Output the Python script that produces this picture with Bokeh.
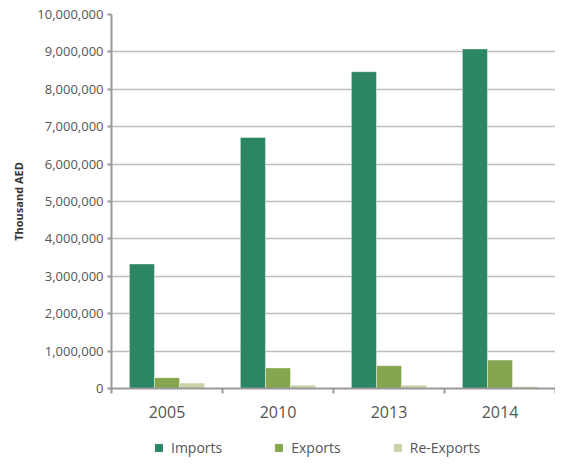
from bokeh.plotting import figure
from bokeh.layouts import column
from bokeh.models import (ColumnDataSource, Range1d, FixedTicker, NumeralTickFormatter,
                          Legend, LegendItem)
from bokeh.transform import dodge
from bokeh.embed import file_html
from bokeh.resources import INLINE

years = ["2005", "2010", "2013", "2014"]
imports = [3330000, 6710000, 8470000, 9080000]
exports = [290000, 550000, 610000, 760000]
re_exports = [145000, 90000, 90000, 45000]
y_ticks = [0, 1000000, 2000000, 3000000, 4000000, 5000000, 6000000, 7000000, 8000000, 9000000, 10000000]
series_names = ["Imports", "Exports", "Re-Exports"]
series_colors = ["#2d8663", "#85a64f", "#c8d3a9"]

FONT = "Open Sans"
pos = [i + 0.5 for i in range(len(years))]
src = ColumnDataSource(dict(x=pos, imports=imports, exports=exports, re_exports=re_exports))

p = figure(width=555, height=430, output_backend="svg", toolbar_location=None,
           x_range=Range1d(0, len(years)), y_range=Range1d(0, 10000000),
           min_border_left=111, min_border_right=0, min_border_top=14, min_border_bottom=42)
p.outline_line_color = None
p.background_fill_color = "white"
p.border_fill_color = "white"

bw = 0.226
fields = ["imports", "exports", "re_exports"]
for k, (field, color) in enumerate(zip(fields, series_colors)):
    p.vbar(x=dodge("x", (k - 1) * bw, range=p.x_range), top=field, width=bw, bottom=0,
           source=src, fill_color=color, line_color="white", line_alpha=0.4, line_width=1)

# x axis
xa = p.xaxis[0]
xa.ticker = FixedTicker(ticks=pos, minor_ticks=list(range(len(years) + 1)))
xa.major_label_overrides = {pv: y for pv, y in zip(pos, years)}
xa.major_tick_out = 0
xa.major_tick_in = 0
xa.minor_tick_out = 5
xa.minor_tick_in = 0
xa.minor_tick_line_color = "#999999"
xa.minor_tick_line_width = 2
xa.axis_line_color = "#999999"
xa.axis_line_width = 2
xa.major_label_text_font = FONT
xa.major_label_text_font_size = "16px"
xa.major_label_text_color = "#555555"
xa.major_label_standoff = 12
p.xgrid.grid_line_color = None

# y axis
ya = p.yaxis[0]
ya.ticker = FixedTicker(ticks=y_ticks)
ya.formatter = NumeralTickFormatter(format="0,0")
ya.major_tick_out = 4
ya.major_tick_in = 0
ya.minor_tick_out = 0
ya.minor_tick_in = 0
ya.major_tick_line_color = "#999999"
ya.major_tick_line_width = 2
ya.axis_line_color = "#999999"
ya.axis_line_width = 2
ya.major_label_text_font = FONT
ya.major_label_text_font_size = "13px"
ya.major_label_text_color = "#555555"
ya.major_label_standoff = 4
ya.axis_label = "Thousand AED"
ya.axis_label_text_font = FONT
ya.axis_label_text_font_size = "11px"
ya.axis_label_text_font_style = "bold"
ya.axis_label_text_color = "#333333"
ya.axis_label_standoff = 8
p.ygrid.ticker = FixedTicker(ticks=y_ticks)
p.ygrid.grid_line_color = "#bdbdbd"
p.ygrid.grid_line_width = 1.5

# legend strip (its frame is aligned with the main frame by the column layout)
lg = figure(width=555, height=27, output_backend="svg", toolbar_location=None,
            x_range=Range1d(0, 1), y_range=Range1d(0, 1),
            x_axis_location=None, y_axis_location=None,
            min_border_left=111, min_border_right=0, min_border_top=0, min_border_bottom=0)
lg.outline_line_color = None
lg.xgrid.visible = False
lg.ygrid.visible = False
items = []
for field, name, color in zip(fields, series_names, series_colors):
    r = lg.vbar(x="x", top=field, width=bw, source=src, fill_color=color, line_color=color)
    r.visible = False
    items.append(LegendItem(label=name, renderers=[r], index=0))
legend = Legend(items=items, orientation="horizontal", location=(43, 0),
                glyph_width=9, glyph_height=9, label_standoff=8, spacing=52,
                padding=0, margin=0, border_line_alpha=0, background_fill_alpha=0,
                inactive_fill_alpha=0,
                label_text_font=FONT, label_text_font_size="14px",
                label_text_color="#555555", label_height=18)
lg.add_layout(legend, "center")

open("out.html", "w").write(file_html(column(p, lg, spacing=0), INLINE))
